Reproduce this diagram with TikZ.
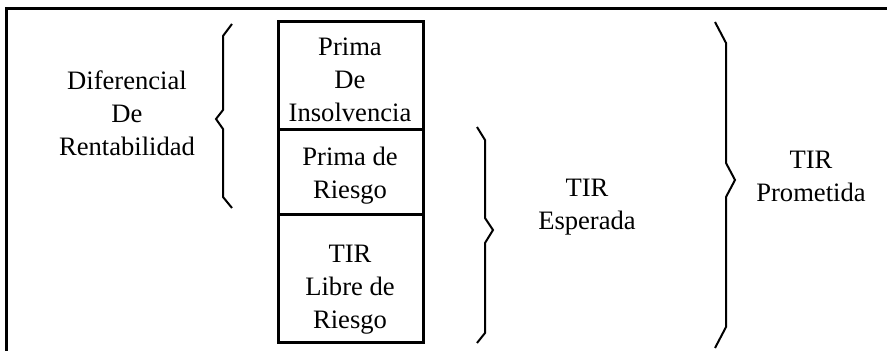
\documentclass[tikz,border=0pt]{standalone}
\usepackage{fontspec}
\setmainfont{Liberation Serif}
\tikzset{
  lbl/.style={align=center, inner sep=0pt, font=\fontsize{13.3}{16.5}\selectfont},
  marco/.style={line width=1.5pt},
  llave/.style={line width=1pt, line join=miter}
}
\begin{document}
\begin{tikzpicture}[x=0.5pt,y=-0.5pt]
  \useasboundingbox (0,0) rectangle (887,351);
  %% frame
  \draw[marco] (6,351) -- (6,9) -- (887,9);
  %% column
  \draw[marco] (278,22) rectangle (423,343);
  \foreach \y in {130,215}
    \draw[marco] (278,\y) -- (423,\y);
  \node[lbl] (insolv) at (350,80) {Prima\\De\\Insolvencia};
  \node[lbl] (riesgo) at (350,176) {Prima de\\Riesgo};
  \node[lbl] (libre) at (350,290) {TIR\\Libre de\\Riesgo};
  %% braces
  \draw[llave] (232,24) -- (223,36) -- (223,110) -- (216,119) -- (223,129) -- (223,197) -- (232,208);
  \draw[llave] (477,127) -- (485,140) -- (485,218) -- (493,230) -- (485,243) -- (485,333) -- (477,343);
  \draw[llave] (715,22) -- (726,43) -- (726,163) -- (735,180) -- (726,197) -- (726,327) -- (715,348);
  %% labels
  \node[lbl] (difer) at (127,113) {Diferencial\\De\\Rentabilidad};
  \node[lbl] (esper) at (587,207) {TIR\\Esperada};
  \node[lbl] (prome) at (811,176) {TIR\\Prometida};
\end{tikzpicture}
\end{document}
